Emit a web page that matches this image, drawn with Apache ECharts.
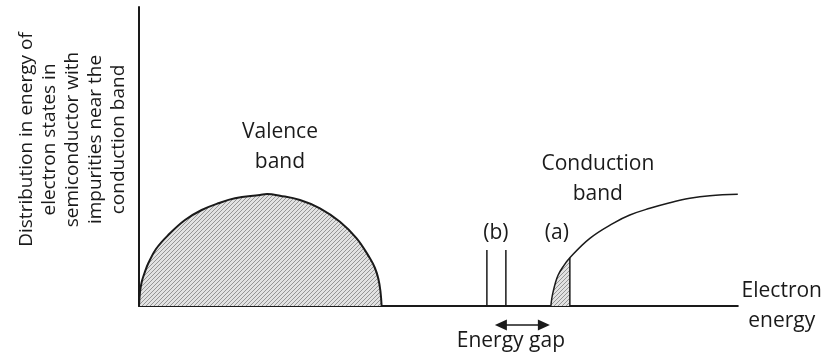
<!DOCTYPE html>
<html><head><meta charset="utf-8">
<script src="https://cdn.jsdelivr.net/npm/echarts@6/dist/echarts.min.js"></script>
<style>html,body{margin:0;padding:0;background:#fff}#c{width:825px;height:358px}</style>
</head><body><div id="c"></div>
<script>
// Density of states curves (x: energy units, y: density units)
const valenceBand = [[0,0],[1,14],[2.7,24],[5.5,33],[9.3,42.7],[17,57],[29.3,71],[46,86],[62.7,96],[79.3,102.7],[96,107.7],[121,111],[128,112],[141,110.3],[161,106],[181,97.7],[201,84.3],[217.7,67.7],[231,47.7],[236,38],[239.3,27.7],[241.5,15],[242.7,0]];
const conductionBand = [[412,0],[413,8],[414.3,14.3],[416.5,23],[419.3,31],[424,39],[431,48.3],[451,67.7],[474.3,82.7],[491,91],[511,97.7],[531,103.3],[551,107.7],[571,110.3],[599,111.7]];
const filledEdgeA = 431;            // right edge of the shaded part (a)
const impurityLevelsB = [348, 367]; // impurity levels (b)
const impurityHeightB = 56;
const energyGap = [356, 411];       // ends of the energy-gap arrow
const energyGapLevel = -19;
const labelTexts = ['Valence\nband', 'Conduction\nband', '(b)', '(a)', 'Energy gap'];
const yTitle = 'Distribution in energy of\nelectron states in\nsemiconductor with\nimpurities near the\nconduction band';
const xTitle = 'Electron\nenergy';

function hatch(){
  const c = document.createElement('canvas'); c.width = 4; c.height = 4;
  const g = c.getContext('2d');
  g.fillStyle = '#e2e2e2'; g.fillRect(0,0,4,4);
  g.strokeStyle = '#959595'; g.lineWidth = 1;
  g.beginPath(); g.moveTo(-1,5); g.lineTo(5,-1); g.stroke();
  return c;
}
const pattern = {image: hatch(), repeat: 'repeat'};
const ink = '#1a1a1a';
const font = '"Open Sans", sans-serif';

const chart = echarts.init(document.getElementById('c'));
const filledA = conductionBand.filter(p => p[0] <= filledEdgeA);
const edgeAHeight = filledA[filledA.length - 1][1];

const labelPos = [[141,159],[459,126.5],[357,73],[418,73],[372,-35]];
const labelData = labelTexts.map((t,i) => ({name: t, value: labelPos[i]}));

const series = [
  {type:'line', data: valenceBand, smooth: 0.4, symbol:'none', lineStyle:{color: ink, width: 2}, areaStyle:{color: pattern, opacity: 1}, z: 3},
  {type:'line', data: filledA, smooth: 0.4, symbol:'none', lineStyle:{width: 0}, areaStyle:{color: pattern, opacity: 1}, z: 2},
  {type:'line', data: conductionBand, smooth: 0.4, symbol:'none', lineStyle:{color: ink, width: 1.5}, z: 3},
  {type:'line', data: [[filledEdgeA,0],[filledEdgeA,edgeAHeight]], symbol:'none', lineStyle:{color: ink, width: 1.5}, z: 3}
];
impurityLevelsB.forEach(x => series.push({type:'line', data: [[x,0],[x,impurityHeightB]], symbol:'none', lineStyle:{color: ink, width: 1.5}, z: 3}));
series.push({
  type:'custom', clip:false, silent:true, z: 3,
  data: [[energyGap[0], energyGap[1], energyGapLevel]],
  renderItem: function(params, api){
    const a = api.coord([api.value(0), api.value(2)]);
    const b = api.coord([api.value(1), api.value(2)]);
    const L = 12, H = 5.5;
    return {type:'group', children:[
      {type:'line', shape:{x1:a[0]+L-1, y1:a[1], x2:b[0]-L+1, y2:b[1]}, style:{stroke: ink, lineWidth: 1.5}},
      {type:'polygon', shape:{points:[[a[0],a[1]],[a[0]+L,a[1]-H],[a[0]+L,a[1]+H]]}, style:{fill: ink}},
      {type:'polygon', shape:{points:[[b[0],b[1]],[b[0]-L,b[1]-H],[b[0]-L,b[1]+H]]}, style:{fill: ink}}
    ]};
  }
});
series.push({
  type:'scatter', data: labelData, clip:false, symbolSize: 0, silent: true, itemStyle:{opacity: 1},
  label:{show:true, position:'inside', formatter:'{b}', color: ink, opacity: 1, fontFamily: font, fontSize: 21, lineHeight: 30}
});

chart.setOption({
  animation: false,
  grid: {left: 139, right: 87, top: 7, bottom: 52},
  xAxis: {type:'value', min: 0, max: 599, axisLine:{onZero:false, lineStyle:{color: ink, width: 2}}, axisTick:{show:false}, axisLabel:{show:false}, splitLine:{show:false},
    name: xTitle, nameLocation:'end', nameGap: 44, nameTextStyle:{color: ink, fontFamily: font, fontSize: 21, lineHeight: 30, align:'center', verticalAlign:'middle'}},
  yAxis: {type:'value', min: 0, max: 299, axisLine:{show:true, lineStyle:{color: ink, width: 2}}, axisTick:{show:false}, axisLabel:{show:false}, splitLine:{show:false},
    name: yTitle, nameLocation:'middle', nameRotate: 90, nameGap: 9, nameTextStyle:{color: ink, fontFamily: font, fontSize: 19, lineHeight: 23, padding:[0,0,0,34]}},
  series: series
});
</script></body></html>
